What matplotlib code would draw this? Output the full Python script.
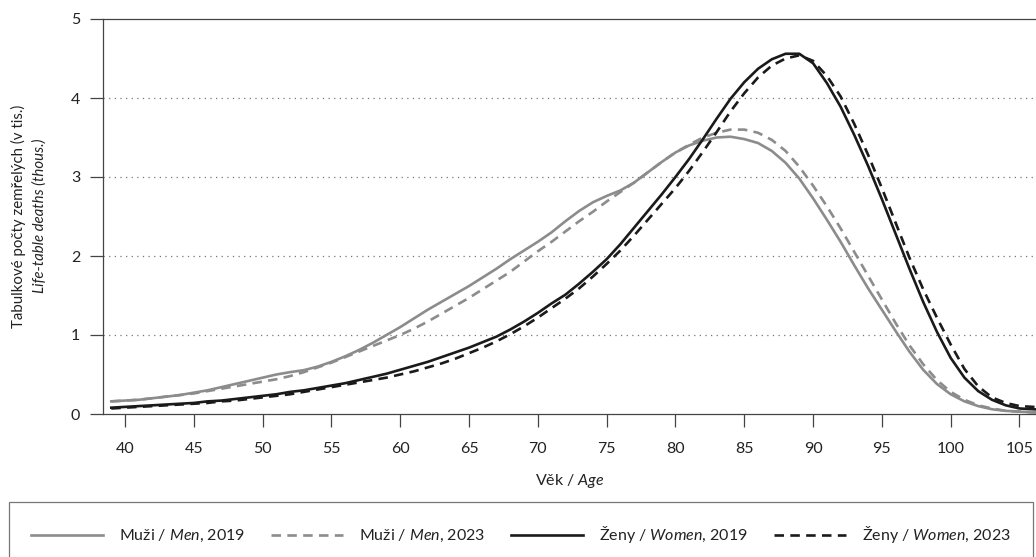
import numpy as np
import matplotlib
matplotlib.use('Agg')
from matplotlib import pyplot as plt

plt.rcParams['font.family'] = ['Lato', 'DejaVu Sans']
plt.rcParams['mathtext.fontset'] = 'custom'
plt.rcParams['mathtext.rm'] = 'Lato'
plt.rcParams['mathtext.it'] = 'Lato:italic'

# age (years)
ages = np.arange(39, 108)

# life-table deaths, thousands
men_2019 = [0.16, 0.17, 0.18, 0.20, 0.22, 0.24, 0.27, 0.30, 0.34, 0.38,
            0.42, 0.46, 0.50, 0.53, 0.555, 0.60, 0.66, 0.73, 0.81, 0.90,
            1.00, 1.10, 1.21, 1.32, 1.42, 1.52, 1.62, 1.73, 1.84, 1.96,
            2.07, 2.18, 2.30, 2.44, 2.57, 2.68, 2.76, 2.83, 2.93, 3.06,
            3.19, 3.31, 3.40, 3.46, 3.50, 3.51, 3.48, 3.43, 3.33, 3.18,
            2.98, 2.73, 2.46, 2.18, 1.88, 1.59, 1.32, 1.05, 0.79, 0.56,
            0.38, 0.25, 0.16, 0.10, 0.06, 0.04, 0.03, 0.02, 0.01]
men_2023 = [0.16, 0.17, 0.18, 0.20, 0.22, 0.24, 0.26, 0.29, 0.32, 0.35,
            0.38, 0.41, 0.44, 0.48, 0.53, 0.59, 0.65, 0.72, 0.79, 0.86,
            0.93, 1.00, 1.08, 1.17, 1.27, 1.37, 1.47, 1.58, 1.69, 1.80,
            1.93, 2.06, 2.18, 2.31, 2.44, 2.56, 2.69, 2.81, 2.93, 3.06,
            3.19, 3.31, 3.41, 3.50, 3.56, 3.60, 3.60, 3.56, 3.47, 3.33,
            3.13, 2.89, 2.63, 2.35, 2.05, 1.75, 1.45, 1.15, 0.87, 0.63,
            0.43, 0.28, 0.18, 0.11, 0.07, 0.04, 0.03, 0.02, 0.015]
women_2019 = [0.08, 0.09, 0.10, 0.11, 0.12, 0.13, 0.14, 0.16, 0.17, 0.19,
              0.21, 0.23, 0.25, 0.28, 0.30, 0.33, 0.36, 0.39, 0.43, 0.47,
              0.51, 0.56, 0.61, 0.66, 0.72, 0.78, 0.84, 0.91, 0.98, 1.07,
              1.17, 1.28, 1.40, 1.51, 1.65, 1.80, 1.96, 2.15, 2.36, 2.57,
              2.78, 3.00, 3.23, 3.48, 3.74, 3.99, 4.20, 4.37, 4.49, 4.56,
              4.56, 4.44, 4.19, 3.89, 3.53, 3.14, 2.72, 2.28, 1.84, 1.42,
              1.04, 0.71, 0.46, 0.29, 0.18, 0.11, 0.07, 0.06, 0.05]
women_2023 = [0.07, 0.08, 0.09, 0.10, 0.11, 0.12, 0.13, 0.14, 0.16, 0.17,
              0.19, 0.21, 0.23, 0.25, 0.28, 0.31, 0.34, 0.37, 0.40, 0.43,
              0.46, 0.50, 0.54, 0.59, 0.64, 0.70, 0.77, 0.84, 0.92, 1.01,
              1.11, 1.22, 1.34, 1.46, 1.59, 1.74, 1.90, 2.07, 2.26, 2.46,
              2.66, 2.86, 3.08, 3.32, 3.57, 3.83, 4.06, 4.26, 4.41, 4.50,
              4.54, 4.47, 4.28, 4.02, 3.67, 3.28, 2.86, 2.42, 1.98, 1.58,
              1.22, 0.88, 0.57, 0.35, 0.21, 0.14, 0.10, 0.09, 0.08]

labels = ['Muži / $\\mathit{Men}$, 2019', 'Muži / $\\mathit{Men}$, 2023',
          'Ženy / $\\mathit{Women}$, 2019', 'Ženy / $\\mathit{Women}$, 2023']

xticks = list(range(40, 106, 5))
yticks = [0, 1, 2, 3, 4, 5]

GREY = '#8c8c8c'
BLACK = '#1a1a1a'
AXCOL = '#444444'
TXT = '#222222'

W, H = 1036, 557
fig = plt.figure(figsize=(W / 100, H / 100), dpi=100)
ax = fig.add_axes([103 / W, 1 - 414 / H, 1 - 103 / W, (414 - 19) / H])

dash = (3.6, 2.4)
ax.plot(ages, men_2019, color=GREY, lw=1.9, label=labels[0], zorder=3)
ax.plot(ages, men_2023, color=GREY, lw=1.9, dashes=dash, label=labels[1], zorder=3)
ax.plot(ages, women_2019, color=BLACK, lw=1.9, label=labels[2], zorder=4)
ax.plot(ages, women_2023, color=BLACK, lw=1.9, dashes=dash, label=labels[3], zorder=4)

ax.set_xlim(38.4, 106.2)
ax.set_ylim(0, 5)
ax.set_xticks(xticks)
ax.set_yticks(yticks)
ax.tick_params(axis='both', direction='out', length=9.5, width=0.9, color=AXCOL,
               labelsize=11.5, labelcolor=TXT)
ax.tick_params(axis='x', pad=11)
ax.tick_params(axis='y', pad=7)

for gy in yticks[1:-1]:
    ax.axhline(gy, color='#777777', lw=0.9, ls=(0, (1, 3.5)), zorder=1)

for side in ['left', 'bottom', 'top']:
    ax.spines[side].set_color(AXCOL)
    ax.spines[side].set_linewidth(0.9)
ax.spines['right'].set_visible(False)

ax.set_xlabel('Věk / $\\mathit{Age}$', fontsize=11.5, color=TXT, labelpad=11)

fig.text(18 / W, 1 - 216 / H, 'Tabulkové počty zemřelých (v tis.)', rotation=90,
         ha='center', va='center', fontsize=10.8, color=TXT)
fig.text(40 / W, 1 - 216 / H, 'Life-table deaths (thous.)', rotation=90,
         ha='center', va='center', fontsize=10.8, color=TXT, style='italic')

leg = fig.legend(loc='upper left', bbox_to_anchor=(9 / W, 0.0, 1024 / W, 1 - 502 / H),
                 mode='expand', ncol=4, fontsize=11.5, frameon=True, fancybox=False,
                 borderpad=1.4, handlelength=4.5, handletextpad=1.0,
                 borderaxespad=0.0, labelcolor=TXT)
leg.get_frame().set_edgecolor('#555555')
leg.get_frame().set_linewidth(0.9)

fig.savefig('out.png', dpi=100)
